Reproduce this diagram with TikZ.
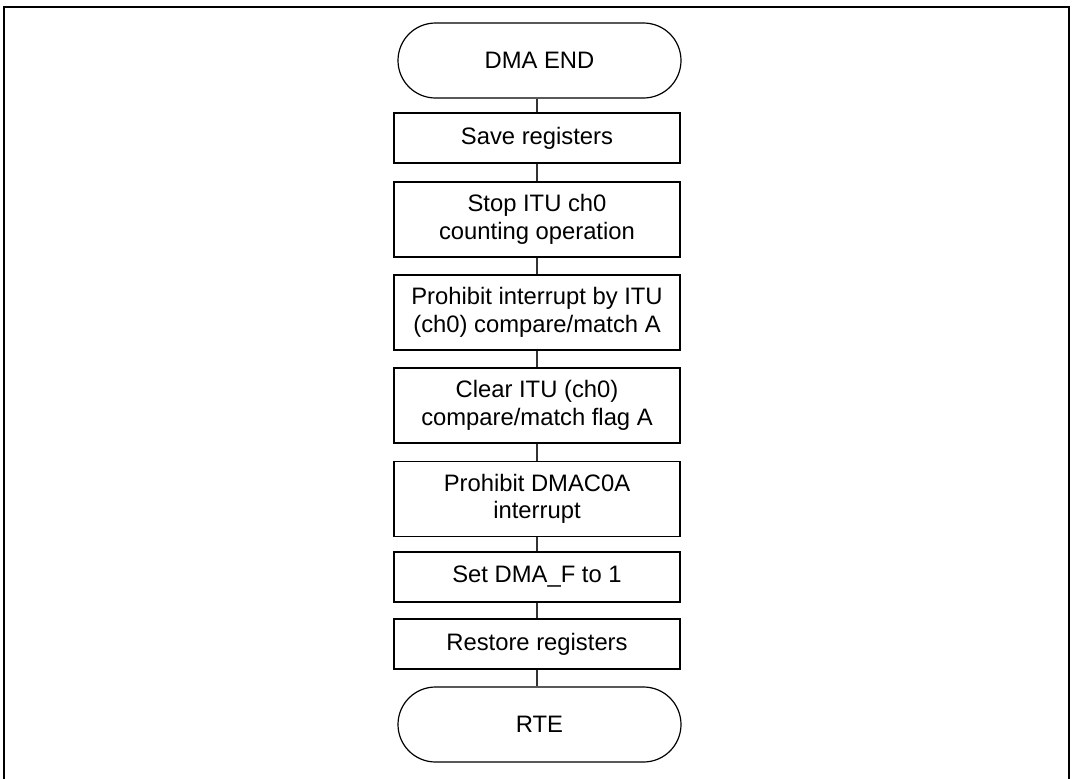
\documentclass[tikz,border=0pt]{standalone}
\usepackage{fontspec}
\setmainfont{Liberation Sans}
\usepackage{tikz}

\begin{document}
\begin{tikzpicture}[x=0.5pt,y=-0.5pt,
    proc/.style={draw,line width=0.6pt,minimum width=143pt,minimum height=25pt,
      inner sep=0pt,align=center,font=\fontsize{11.9}{13.8}\selectfont},
    proctwo/.style={proc,minimum height=37.5pt},
    term/.style={proc,minimum width=141.5pt,minimum height=37.5pt,rounded corners=18.75pt},
    link/.style={line width=0.6pt,black!80}]
    \useasboundingbox (0,0) rectangle (1073,778);
    % Frame (open at the bottom)
    \begin{scope}
      \clip (0,0) rectangle (1073,778);
      \draw[line width=1.1pt] (4,7) rectangle (1069,800);
    \end{scope}
    % Steps
    \node[term] (start) at (539.5,60.5) {DMA END};
    \node[proc] (save) at (537,138) {Save registers};
    \node[proctwo] (stopitu) at (537,219.5) {Stop ITU ch0\\counting operation};
    \node[proctwo] (prohint) at (537,312.5) {Prohibit interrupt by ITU\\(ch0) compare/match A};
    \node[proctwo] (clrflag) at (537,405.5) {Clear ITU (ch0)\\compare/match flag A};
    \node[proctwo] (prohdma) at (537,499) {Prohibit DMAC0A\\interrupt};
    \node[proc] (setflag) at (537,577) {Set DMA\_F to 1};
    \node[proc] (restore) at (537,644) {Restore registers};
    \node[term] (rte) at (539.5,724.5) {RTE};
    % Links
    \foreach \a/\b in {start/save,save/stopitu,stopitu/prohint,prohint/clrflag,
      clrflag/prohdma,prohdma/setflag,setflag/restore,restore/rte}
      \draw[link] (\a.south -| save) -- (\b.north -| save);
  \end{tikzpicture}
\end{document}
